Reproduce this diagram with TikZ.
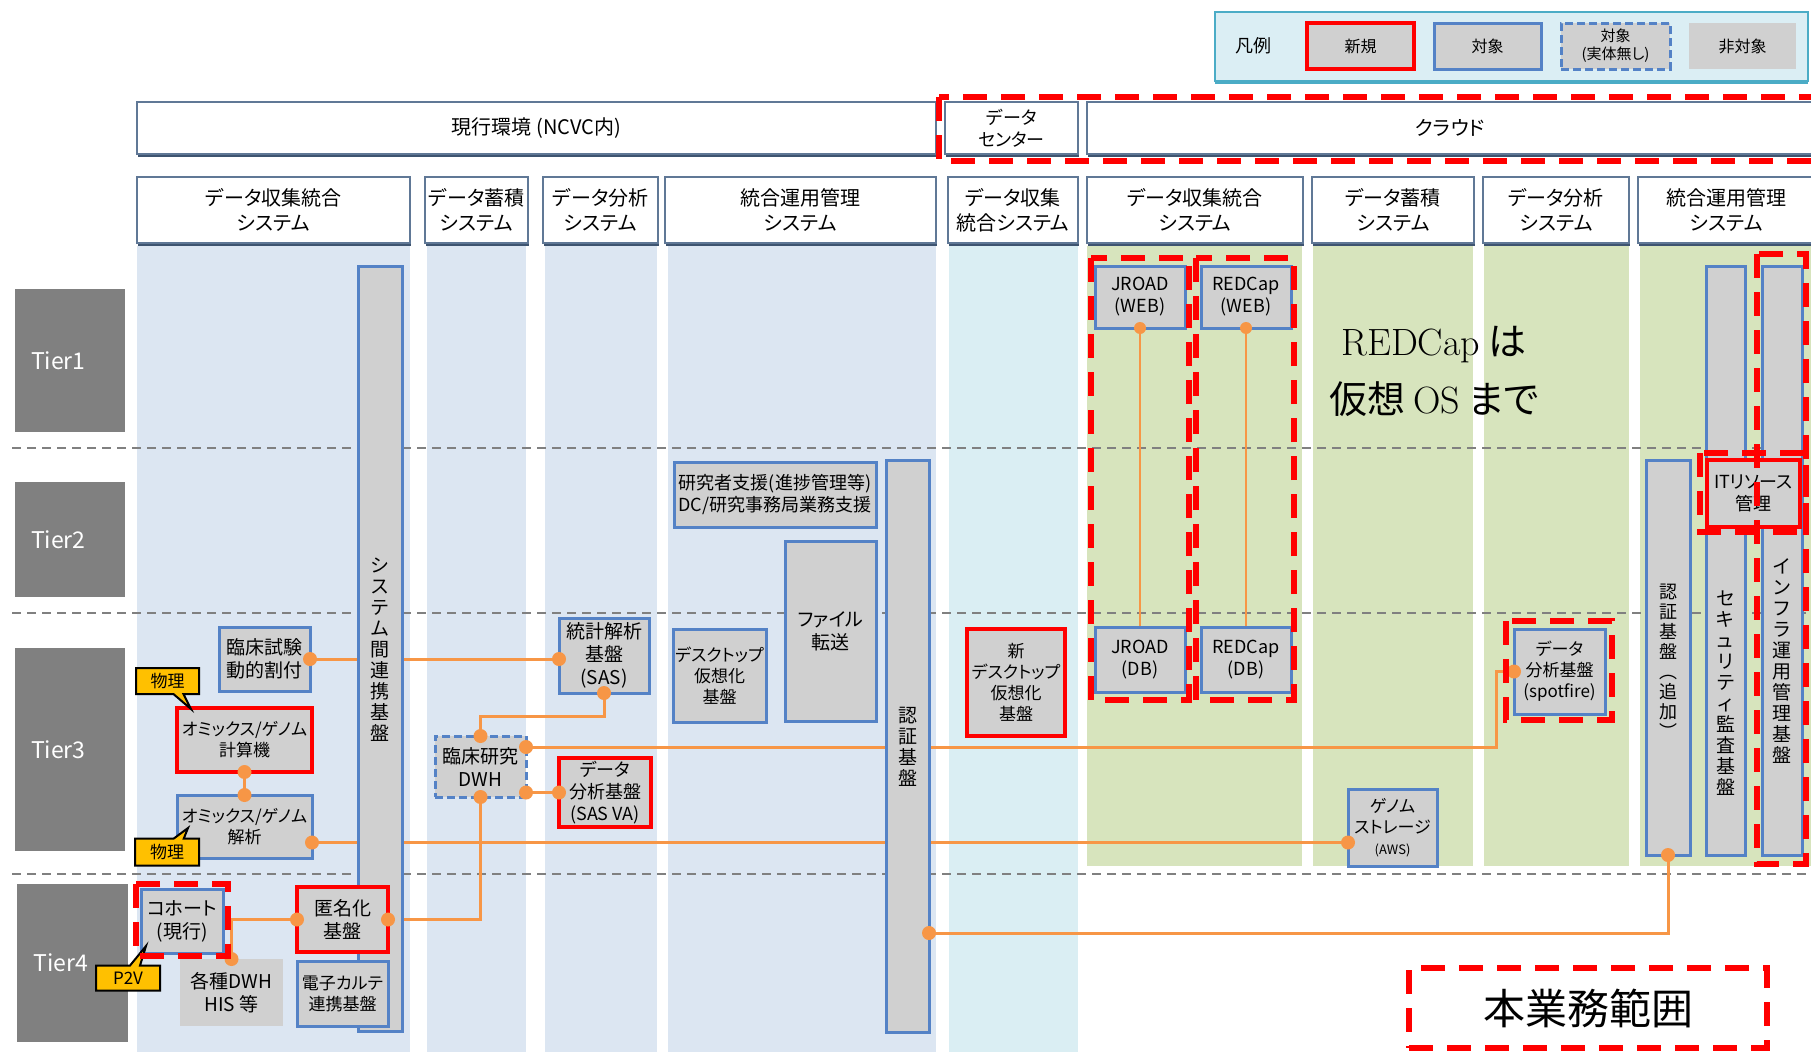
\documentclass[tikz,border=0pt]{standalone}
\usepackage{fontspec}
\setmainfont{Noto Sans CJK JP}[RawFeature={+palt}]
\newfontfamily\lmr{Latin Modern Roman}
\usetikzlibrary{shapes.callouts,shadows}
\definecolor{boxgray}{RGB}{208,208,208}
\definecolor{bborder}{RGB}{84,130,198}
\definecolor{hborder}{RGB}{96,120,150}
\definecolor{hshadow}{RGB}{62,84,112}
\definecolor{colblue}{RGB}{220,230,242}
\definecolor{colcyan}{RGB}{218,238,243}
\definecolor{colgreen}{RGB}{215,228,189}
\definecolor{tiergray}{RGB}{128,128,128}
\definecolor{conncol}{RGB}{247,150,70}
\definecolor{callyellow}{RGB}{255,192,0}
\definecolor{legfill}{RGB}{219,238,244}
\definecolor{legborder}{RGB}{75,172,198}
\pgfdeclarelayer{back}\pgfdeclarelayer{conn}\pgfdeclarelayer{front}
\pgfsetlayers{back,conn,main,front}
\newcommand\bx[7]{\node[#2,minimum width={(#5)-(#3)},minimum height={(#6)-(#4)}] (#1) at ({((#3)+(#5))/2},{((#4)+(#6))/2}) {#7};}
\newcommand\dotat[1]{\fill[conncol] (#1) circle[radius=7pt];}
\tikzset{
 base/.style={rectangle, inner sep=0pt, outer sep=0pt, align=center, font=\fontsize{19}{23}\selectfont},
 f15/.style={font=\fontsize{15}{18}\selectfont},
 f16/.style={font=\fontsize{16}{19}\selectfont},
 f17/.style={font=\fontsize{17}{21}\selectfont},
 f18/.style={font=\fontsize{18}{22}\selectfont},
 gbox/.style={base, fill=boxgray, draw=bborder, line width=3pt},
 nbox/.style={base, fill=boxgray, draw=red, line width=3.5pt},
 vbox/.style={base, fill=boxgray, draw=bborder, line width=3pt, dash pattern=on 8pt off 4pt},
 pbox/.style={base, fill=boxgray},
 hdr/.style={base, fill=white, draw=hborder, line width=2pt, font=\fontsize{20}{25}\selectfont,
   drop shadow={shadow xshift=0.5pt, shadow yshift=-2.5pt, fill=hshadow, opacity=1}},
 legendbox/.style={base, fill=legfill, draw=legborder, line width=2pt,
   drop shadow={shadow xshift=0pt, shadow yshift=-3pt, fill=legborder, opacity=1}},
 tier/.style={base, fill=tiergray, text=white, font=\fontsize{23}{26}\selectfont,
   inner xsep=16pt, text width=78pt, align=left},
 vtxt/.style={base, font=\fontsize{19}{21}\selectfont},
 redzone/.style={draw=red, line width=6pt, dash pattern=on 24pt off 14pt},
 tierline/.style={draw=tiergray, line width=2pt, dash pattern=on 9pt off 6pt},
 conn/.style={draw=conncol, line width=3pt},
 callbox/.style={rectangle callout, fill=callyellow, draw=black, line width=2pt, inner sep=0pt,
   font=\fontsize{17}{20}\selectfont, callout pointer width=10pt},
}
\begin{document}
\begin{tikzpicture}[x=1pt,y=-1pt]
\useasboundingbox (0,0) rectangle (1811,1052);

% ---------- backgrounds ----------
\begin{pgfonlayer}{back}
\fill[white] (0,0) rectangle (1811,1052);
\fill[colblue] (137,246) rectangle (410,1052);
\fill[colblue] (427,246) rectangle (526,1052);
\fill[colblue] (545,246) rectangle (657,1052);
\fill[colblue] (668,246) rectangle (936,1052);
\fill[colcyan] (949,246) rectangle (1078,1052);
\fill[colgreen] (1087,246) rectangle (1302,866);
\fill[colgreen] (1313,246) rectangle (1473,866);
\fill[colgreen] (1484,246) rectangle (1629,866);
\fill[colgreen] (1640,246) rectangle (1811,866);
\foreach \yy in {448,613,874} \draw[tierline] (12,\yy) -- (1811,\yy);
\end{pgfonlayer}

% ---------- legend ----------
\bx{legend}{legendbox}{1215}{12}{1808}{81}{}
\node[base,f18] (lgTitle) at (1253,46) {凡例};
\bx{lgNew}{nbox,f16}{1307}{23}{1414}{69}{新規}
\bx{lgTgt}{gbox,f16}{1434}{23}{1541}{69}{対象}
\bx{lgVirt}{vbox,f15}{1561}{23}{1670}{69}{対象\\(実体無し)}
\bx{lgNon}{pbox,f16}{1689}{23}{1796}{69}{非対象}

% ---------- headers ----------
\bx{envCur}{hdr}{137}{102}{936}{154}{現行環境 (NCVC内)}
\bx{envDC}{hdr,f18}{945}{102}{1078}{154}{データ\\センター}
\bx{envCloud}{hdr}{1087}{102}{1813}{154}{クラウド}

\bx{h1}{hdr}{137}{177}{410}{243}{データ収集統合\\システム}
\bx{h2}{hdr}{425}{177}{528}{243}{データ蓄積\\システム}
\bx{h3}{hdr}{543}{177}{658}{243}{データ分析\\システム}
\bx{h4}{hdr}{665}{177}{936}{243}{統合運用管理\\システム}
\bx{h5}{hdr}{948}{177}{1078}{243}{データ収集\\統合システム}
\bx{h6}{hdr}{1087}{177}{1303}{243}{データ収集統合\\システム}
\bx{h7}{hdr}{1312}{177}{1474}{243}{データ蓄積\\システム}
\bx{h8}{hdr}{1483}{177}{1629}{243}{データ分析\\システム}
\bx{h9}{hdr}{1638}{177}{1815}{243}{統合運用管理\\システム}

% ---------- tiers ----------
\bx{t1}{tier}{15}{289}{125}{432}{Tier1}
\bx{t2}{tier}{15}{482}{125}{597}{Tier2}
\bx{t3}{tier}{15}{648}{125}{851}{Tier3}
\bx{t4}{tier}{17}{884}{128}{1042}{Tier4}

% ---------- current environment ----------
\bx{sysBar}{gbox}{358}{266}{402}{1031}{}
\node[vtxt] (sysLbl) at (380,650) {シ\\ス\\テ\\ム\\間\\連\\携\\基\\盤};
\bx{shiken}{gbox}{219}{627}{310}{691}{臨床試験\\動的割付}
\bx{omCalc}{nbox,f17}{177}{708}{312}{772}{オミックス/ゲノム\\計算機}
\bx{omAna}{gbox,f17}{177}{795}{312}{858}{オミックス/ゲノム\\解析}
\bx{cohort}{gbox}{141}{889}{223}{953}{コホート\\(現行)}
\bx{dwhEtc}{pbox}{180}{959}{283}{1026}{各種DWH\\HIS 等}
\bx{anon}{nbox}{297}{887}{388}{952}{匿名化\\基盤}
\bx{emr}{gbox,f17}{297}{961}{388}{1026}{電子カルテ\\連携基盤}
\bx{crDWH}{vbox}{435}{736}{526}{797}{臨床研究\\DWH}
\bx{sas}{gbox}{559}{618}{649}{693}{統計解析\\基盤\\(SAS)}
\bx{sasva}{nbox,f18}{559}{758}{651}{827}{データ\\分析基盤\\(SAS VA)}
\bx{vdi}{gbox,f17}{673}{629}{766}{722}{デスクトップ\\仮想化\\基盤}
\bx{ftp}{gbox}{785}{541}{876}{721}{ファイル\\転送}
\bx{research}{gbox,f18}{674}{462}{876}{527}{研究者支援(進捗管理等)\\DC/研究事務局業務支援}
\bx{authBar}{gbox}{886}{460}{929}{1032}{}
\node[vtxt] (authLbl) at (907.5,747) {認\\証\\基\\盤};

% ---------- data center ----------
\bx{newVdi}{nbox,f17}{967}{629}{1065}{736}{新\\デスクトップ\\仮想化\\基盤}

% ---------- cloud ----------
\bx{jrWeb}{gbox,f18}{1095}{266}{1185}{328}{JROAD\\(WEB)}
\bx{rcWeb}{gbox,f18}{1201}{266}{1291}{328}{REDCap\\(WEB)}
\bx{jrDB}{gbox,f18}{1095}{627}{1185}{692}{JROAD\\(DB)}
\bx{rcDB}{gbox,f18}{1201}{627}{1291}{692}{REDCap\\(DB)}
\bx{genome}{gbox,f17}{1348}{789}{1437}{866}{ゲノム\\ストレージ\\{\fontsize{13}{16}\selectfont (AWS)}}
\bx{spot}{gbox,f17}{1514}{629}{1605}{714}{データ\\分析基盤\\(spotfire)}
\bx{auth2}{gbox}{1646}{460}{1690}{855}{}
\node[vtxt,font=\fontsize{18}{20}\selectfont] (auth2Lbl) at (1668,661) {認\\証\\基\\盤\\︵\\追\\加\\︶};
\bx{secBar}{gbox}{1706}{266}{1745}{855}{}
\node[vtxt] (secLbl) at (1725.5,693) {セ\\キ\\ュ\\リ\\テ\\ィ\\監\\査\\基\\盤};
\bx{infraBar}{gbox}{1762}{266}{1802}{855}{}
\node[vtxt] (infraLbl) at (1782,661) {イ\\ン\\フ\\ラ\\運\\用\\管\\理\\基\\盤};
\bx{itres}{nbox,f18}{1707}{460}{1800}{527}{ITリソース\\管理}

\node[base,align=center,font=\fontsize{38}{58}\selectfont] (note) at (1434,371)
  {{\lmr REDCap} は\\仮想 {\lmr OS} まで};

% ---------- connectors ----------
\begin{pgfonlayer}{conn}
\coordinate (sasIn) at (shiken.east -| sas.west);
\draw[conn] (shiken.east) -- (sasIn);
\draw[conn] (omCalc.south) -- (omAna.north);
\coordinate (omOut) at ([yshift=-16pt]omAna.east);
\coordinate (genIn) at (omOut -| genome.west);
\draw[conn] (omOut) -- (genIn);
\draw[conn] (crDWH.north) -- ++(0,-20) -| (sas.south);
\coordinate (dwhA) at ([yshift=19.5pt]crDWH.east);
\coordinate (spotIn) at ([xshift=-18pt]spot.west);
\draw[conn] (dwhA) -| (spotIn) -- (spot.west);
\coordinate (dwhB) at (sasva.west -| crDWH.east);
\draw[conn] (dwhB) -- (sasva.west);
\draw[conn] (anon.west) -| (dwhEtc.north);
\draw[conn] (anon.east) -| (crDWH.south);
\coordinate (authOut) at ([yshift=-187pt]authBar.east);
\draw[conn] (authOut) -| (auth2.south);
\draw[conn,line width=2pt] (jrWeb.south) -- (jrDB.north);
\draw[conn,line width=2pt] (rcWeb.south) -- (rcDB.north);
\end{pgfonlayer}

% ---------- dots, callouts, zones ----------
\begin{pgfonlayer}{front}
\foreach \pt in {shiken.east,sasIn,omCalc.south,omAna.north,omOut,genIn,crDWH.north,sas.south,
  dwhA,spot.west,dwhB,sasva.west,anon.west,dwhEtc.north,anon.east,crDWH.south,authOut,auth2.south}
  {\dotat{\pt}}
\fill[conncol] (jrWeb.south) circle[radius=6pt];
\fill[conncol] (rcWeb.south) circle[radius=6pt];

\node[callbox, minimum width=63pt, minimum height=26pt, callout absolute pointer={(191,709)}] (phys1) at (167.5,681) {物理};
\node[callbox, minimum width=64pt, minimum height=27pt, callout absolute pointer={(188,828)}] (phys2) at (167,852) {物理};
\node[callbox, minimum width=64pt, minimum height=25pt, callout absolute pointer={(146,946)}] (p2v) at (128,978) {P2V};

\draw[redzone] (939,97) rectangle (1830,161);
\draw[redzone] (1091,258) rectangle (1189,700);
\draw[redzone] (1196,258) rectangle (1294,700);
\draw[redzone] (1506,621) rectangle (1612,720);
\draw[redzone] (136,884) rectangle (228,956);
\draw[redzone] (1700,453) rectangle (1806,532);
\draw[redzone] (1757,254) rectangle (1806,864);
\bx{scope}{base,redzone,font=\fontsize{42}{46}\selectfont}{1409}{968}{1767}{1048}{本業務範囲}
\end{pgfonlayer}
\end{tikzpicture}
\end{document}
